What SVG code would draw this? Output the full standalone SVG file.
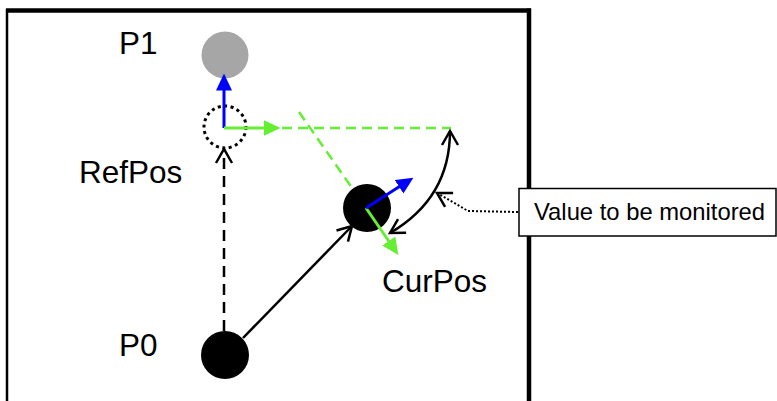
<svg xmlns="http://www.w3.org/2000/svg" width="777" height="401" viewBox="0 0 777 401">
<style>
.lbl{font-family:"Liberation Sans",Arial,sans-serif;font-size:31.5px;fill:#000}
.small{font-family:"Liberation Sans",Arial,sans-serif;font-size:23.8px;fill:#000}
.blk{fill:none;stroke:#000;stroke-width:2.5}
.grn{fill:none;stroke:#66ee33;stroke-width:3}
.blu{fill:none;stroke:#0000ff;stroke-width:3}
.gdash{fill:none;stroke:#66ee33;stroke-width:2.5;stroke-dasharray:10 6}
</style>
<defs>
<marker id="open" markerUnits="userSpaceOnUse" markerWidth="20" markerHeight="20" viewBox="0 0 20 20" refX="17" refY="10" orient="auto-start-reverse">
<path d="M3,2 L17,10 L3,18" fill="none" stroke="#000" stroke-width="2.5"/>
</marker>
<marker id="blueHead" markerUnits="userSpaceOnUse" markerWidth="17" markerHeight="17" viewBox="0 0 17 17" refX="0.5" refY="8.5" orient="auto">
<path d="M0,0.5 L17,8.5 L0,16.5 z" fill="#0000ff"/>
</marker>
<marker id="greenHead" markerUnits="userSpaceOnUse" markerWidth="17" markerHeight="17" viewBox="0 0 17 17" refX="0.5" refY="8.5" orient="auto">
<path d="M0,0.5 L17,8.5 L0,16.5 z" fill="#66ee33"/>
</marker>
</defs>
<rect width="777" height="401" fill="#fff"/>
<g id="frame" fill="none" stroke="#000">
<line x1="7" y1="9" x2="7" y2="401" stroke-width="2.5"/>
<line x1="6" y1="10.5" x2="531" y2="10.5" stroke-width="4.5"/>
<line x1="529" y1="8.5" x2="529" y2="401" stroke-width="4.5"/>
</g>
<g id="connectors">
<line class="gdash" x1="282" y1="128" x2="451" y2="128"/>
<line class="gdash" x1="299" y1="112" x2="366" y2="208"/>
<line class="blk" x1="224" y1="331" x2="224" y2="149" stroke-dasharray="11 7" marker-end="url(#open)"/>
<line class="blk" x1="243" y1="338" x2="352" y2="226" marker-end="url(#open)"/>
<path class="blk" d="M450,131 Q450,198 390,233" marker-start="url(#open)" marker-end="url(#open)"/>
<polyline fill="none" stroke="#000" stroke-width="2" stroke-dasharray="2 2" points="518,212 468,211 437,193" marker-end="url(#open)"/>
</g>
<g id="P1">
<circle cx="225" cy="55" r="23.5" fill="#a6a6a6"/>
<text class="lbl" x="119" y="54">P1</text>
</g>
<g id="RefPos">
<circle cx="225" cy="127" r="21" fill="none" stroke="#000" stroke-width="3" stroke-dasharray="3 3.5"/>
<line class="blu" x1="224" y1="128" x2="224" y2="90" marker-end="url(#blueHead)"/>
<line class="grn" x1="224" y1="128" x2="264" y2="128" marker-end="url(#greenHead)"/>
<text class="lbl" x="79" y="183">RefPos</text>
</g>
<g id="CurPos">
<circle cx="367" cy="208" r="24" fill="#000"/>
<line class="grn" x1="366" y1="208" x2="389" y2="241.5" marker-end="url(#greenHead)"/>
<line class="blu" x1="366" y1="208" x2="399.5" y2="186.6" marker-end="url(#blueHead)"/>
<text class="lbl" x="382" y="292">CurPos</text>
</g>
<g id="P0">
<circle cx="225" cy="355" r="24" fill="#000"/>
<text class="lbl" x="119" y="356">P0</text>
</g>
<g id="callout">
<rect x="519" y="188.5" width="257" height="47.5" fill="#fff" stroke="#000" stroke-width="1.5"/>
<text class="small" x="534" y="220">Value to be monitored</text>
</g>
</svg>
